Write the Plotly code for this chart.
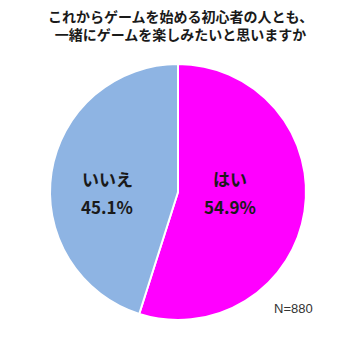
import plotly.graph_objects as go

labels = ["はい", "いいえ"]
values = [54.9, 45.1]
colors = ["#FF00FF", "#8EB4E3"]
title_lines = ["これからゲームを始める初心者の人とも、", "一緒にゲームを楽しみたいと思いますか"]
note = "N=880"

W, H = 361, 339
# label anchor points (pixels) for each slice's text
label_pos = [(230, 178), (107, 178)]

fig = go.Figure(go.Pie(
    labels=labels, values=values, sort=False, direction="clockwise", rotation=0,
    marker=dict(colors=colors, line=dict(color="white", width=2)),
    textinfo="none", hoverinfo="skip", showlegend=False,
    domain=dict(x=[50/W, 306/W], y=[19/H, 275/H]),
))
for lab, val, (px, py) in zip(labels, values, label_pos):
    fig.add_annotation(text=f"<b>{lab}</b>", x=px/W, y=1 - py/H, xref="paper", yref="paper",
                       xanchor="center", yanchor="middle", showarrow=False,
                       font=dict(family="Noto Sans CJK JP", size=17, color="#1a1a1a"))
    fig.add_annotation(text=f"<b>{val:.1f}%</b>", x=px/W, y=1 - (py + 29)/H, xref="paper", yref="paper",
                       xanchor="center", yanchor="middle", showarrow=False,
                       font=dict(family="Noto Sans CJK JP", size=17, color="#1a1a1a"))
fig.add_annotation(text="<b>" + "<br>".join(title_lines) + "</b>", x=0.5, y=1 - 4/H,
                   xref="paper", yref="paper", xanchor="center", yanchor="top", showarrow=False,
                   font=dict(family="Noto Sans CJK JP", size=14, color="#1a1a1a"))
fig.add_annotation(text=note, x=272/W, y=1 - 308/H, xref="paper", yref="paper",
                   xanchor="left", yanchor="middle", showarrow=False,
                   font=dict(family="Liberation Sans", size=13, color="#333333"))
fig.update_layout(width=W, height=H, margin=dict(l=0, r=0, t=0, b=0),
                  paper_bgcolor="white", plot_bgcolor="white")
fig.write_html("out.html")
